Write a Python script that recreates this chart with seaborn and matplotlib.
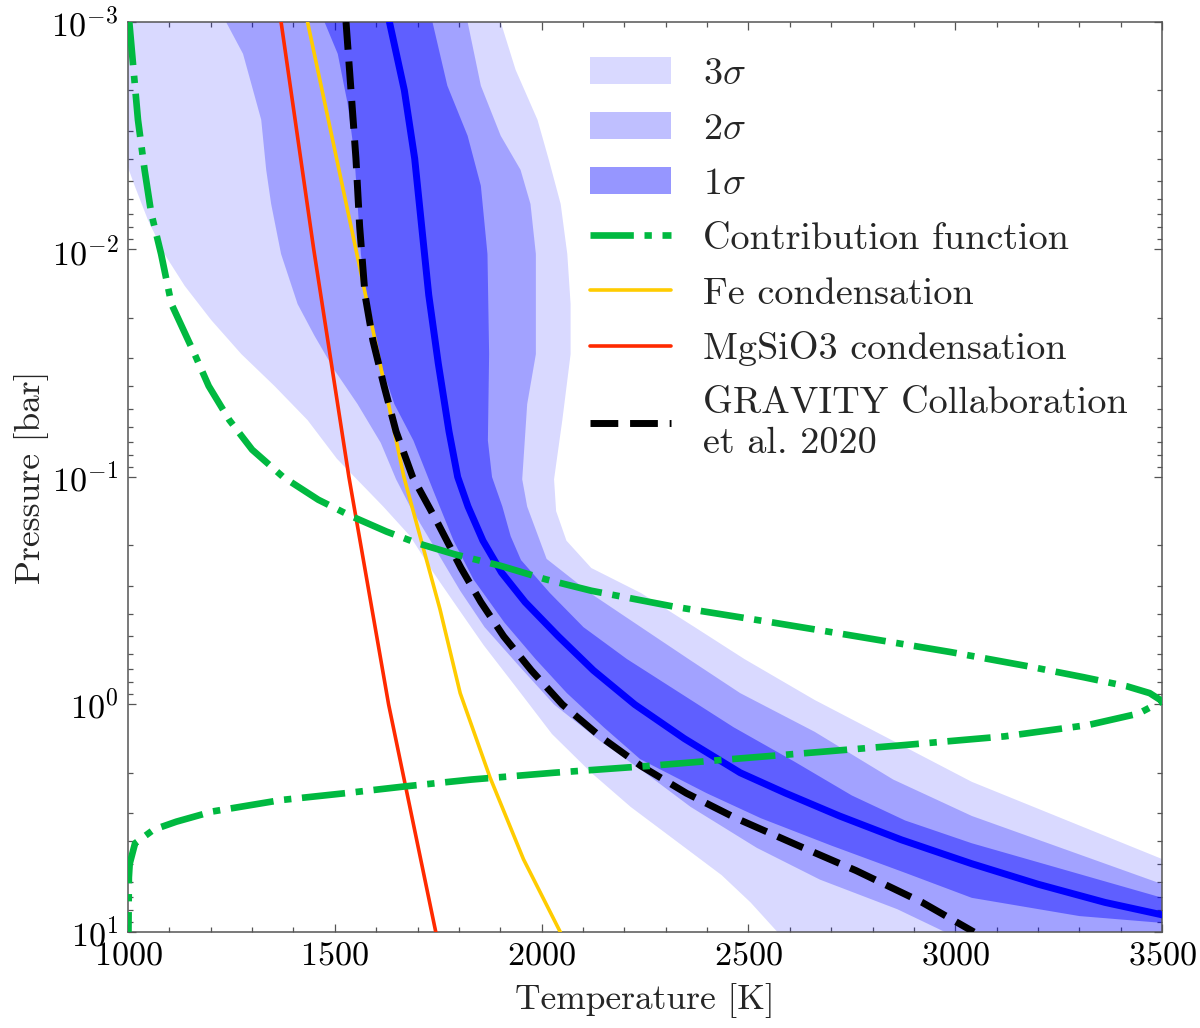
import numpy as np
import matplotlib
matplotlib.use("Agg")
import matplotlib.pyplot as plt
import seaborn as sns
import pandas as pd
from matplotlib.patches import Patch
from matplotlib.ticker import MultipleLocator, LogLocator, NullFormatter

# ---------------- data (log10 pressure [bar], temperature [K]) ----------------
median_logp = [-3.0, -2.7, -2.4, -2.1, -1.8, -1.5, -1.2, -1.0, -0.87, -0.72, -0.58, -0.45,
               -0.3, -0.15, 0.0, 0.15, 0.3, 0.39, 0.49, 0.595, 0.7, 0.79, 0.87, 0.925, 1.0]
median_T = [1632, 1668, 1693, 1710, 1727, 1750, 1776, 1797, 1822, 1858, 1903, 1960,
            2040, 2125, 2225, 2345, 2480, 2590, 2720, 2870, 3040, 3200, 3362, 3501, 3700]

gravity_logp = [-3.0, -2.7, -2.4, -2.1, -1.8, -1.6, -1.4, -1.2, -1.0, -0.8, -0.6, -0.45,
                -0.3, -0.15, 0.0, 0.14, 0.27, 0.39, 0.5, 0.62, 0.73, 0.87, 1.0]
gravity_T = [1527, 1539, 1551, 1560, 1573, 1592, 1619, 1648, 1688, 1748, 1805, 1853,
             1908, 1975, 2050, 2141, 2240, 2350, 2470, 2620, 2760, 2920, 3045]

mgsio3_logp = [-3.0, -2.0, -1.0, 0.0, 1.0]
mgsio3_T = [1370, 1449, 1534, 1630, 1744]

fe_logp = [-3.0, -2.0, -1.0, -0.42, -0.05, 0.32, 0.68, 1.0]
fe_T = [1434, 1551, 1667, 1754, 1803, 1875, 1956, 2045]

cf_logp = [-3.0, -2.57, -2.35, -2.16, -1.98, -1.76, -1.54, -1.4, -1.25, -1.12, -1.0, -0.9,
           -0.83, -0.76, -0.71, -0.66, -0.61, -0.55, -0.5, -0.43, -0.36, -0.3, -0.23,
           -0.17, -0.12, -0.08, -0.05, -0.015, 0.04, 0.09, 0.14, 0.178, 0.212, 0.24,
           0.27, 0.3, 0.33, 0.36, 0.39, 0.42, 0.47, 0.515, 0.55, 0.61, 0.70, 0.76, 1.0]
cf_T = [1003, 1024, 1040, 1056, 1080, 1105, 1161, 1195, 1245, 1300, 1375, 1460,
        1537, 1625, 1698, 1790, 1900, 2010, 2120, 2320, 2560, 2760, 2990,
        3170, 3310, 3415, 3470, 3500, 3443, 3322, 3120, 2879, 2650, 2460,
        2260, 2030, 1830, 1670, 1525, 1370, 1205, 1117, 1062, 1017, 1004, 1002, 1001]

# 3 sigma envelope
s3_left_logp = [-3.0, -2.6, -2.36, -2.28, -2.13, -1.98, -1.84, -1.69, -1.54, -1.4, -1.25,
                -1.08, -0.87, -0.74, -0.58, -0.43, -0.26, -0.06, 0.13, 0.3, 0.45, 0.6,
                0.75, 0.87, 1.0]
s3_left_T = [985, 995, 1000, 1016, 1048, 1088, 1137, 1201, 1274, 1354, 1434,
             1505, 1617, 1682, 1738, 1795, 1860, 1945, 2025, 2120, 2215, 2325,
             2435, 2505, 2570]
s3_right_logp = [-3.0, -2.79, -2.57, -2.39, -2.2, -1.98, -1.76, -1.54, -1.25, -0.99, -0.85,
                 -0.72, -0.6, -0.49, -0.34, -0.2, -0.02, 0.16, 0.34, 0.68, 1.0]
s3_right_T = [1901, 1937, 1990, 2018, 2046, 2062, 2070, 2070, 2050, 2030, 2035,
              2060, 2120, 2240, 2370, 2490, 2660, 2850, 3040, 3501, 3900]

# 2 sigma envelope
s2_left_logp = [-3.0, -2.86, -2.57, -2.35, -2.2, -1.98, -1.76, -1.62, -1.47, -1.32, -1.15,
                -0.99, -0.87, -0.65, -0.5, -0.34, -0.17, 0.0, 0.16, 0.3, 0.45, 0.54,
                0.63, 0.77, 0.9, 1.0]
s2_left_T = [1237, 1278, 1322, 1334, 1346, 1370, 1410, 1451, 1499, 1555, 1611,
             1648, 1682, 1754, 1803, 1862, 1945, 2030, 2141, 2250, 2360, 2440,
             2520, 2673, 2860, 2975]
s2_right_logp = [-3.0, -2.72, -2.5, -2.35, -2.2, -1.98, -1.54, -1.32, -0.99, -0.87, -0.64,
                 -0.49, -0.34, -0.2, -0.05, 0.12, 0.33, 0.49, 0.79, 1.0]
s2_right_T = [1821, 1853, 1901, 1949, 1973, 1986, 1986, 1965, 1953, 1965, 2012,
              2117, 2240, 2355, 2480, 2660, 2850, 3040, 3501, 3850]

# 1 sigma envelope
s1_left_logp = [-3.0, -2.86, -2.64, -2.42, -2.2, -1.98, -1.76, -1.54, -1.32, -1.16, -0.94,
                -0.72, -0.55, -0.36, -0.2, -0.05, 0.1, 0.24, 0.39, 0.5, 0.62, 0.74,
                0.85, 0.93, 0.96, 1.0]
s1_left_T = [1475, 1507, 1531, 1547, 1555, 1563, 1579, 1603, 1644, 1690, 1738,
             1787, 1835, 1910, 1985, 2061, 2150, 2238, 2399, 2530, 2700, 2879,
             3040, 3300, 3500, 3800]
s1_right_logp = [-3.0, -2.72, -2.5, -2.28, -1.98, -1.54, -1.16, -1.0, -0.87, -0.74, -0.635,
                 -0.49, -0.34, -0.2, -0.05, 0.1, 0.25, 0.4, 0.51, 0.61, 0.85, 1.0]
s1_right_T = [1736, 1772, 1821, 1853, 1869, 1873, 1870, 1880, 1905, 1925, 1950,
              2020, 2101, 2206, 2335, 2464, 2610, 2750, 2879, 3040, 3501, 3800]

band_alphas = [0.15, 0.25, 0.41]
band_labels = [r"$3\sigma$", r"$2\sigma$", r"$1\sigma$"]
line_labels = ["Contribution function", "Fe condensation", "MgSiO3 condensation",
               "GRAVITY Collaboration\net al. 2020"]

# ---------------- style ----------------
sns.set_theme(style="ticks")
plt.rcParams["font.family"] = ["cmr10", "DejaVu Serif"]
plt.rcParams["mathtext.fontset"] = "cm"
plt.rcParams["axes.formatter.use_mathtext"] = True
plt.rcParams["axes.unicode_minus"] = False

fig = plt.figure(figsize=(12, 10.28), dpi=100)
ax = fig.add_axes([0.1067, 0.0934, 0.8617, 0.8852])
ax.set_yscale("log")

def band(lp_l, T_l, lp_r, T_r, alpha):
    xs = np.concatenate([np.asarray(T_l, float), np.asarray(T_r, float)[::-1]])
    ys = np.concatenate([10 ** np.asarray(lp_l, float), 10 ** np.asarray(lp_r, float)[::-1]])
    ax.fill(xs, ys, color="#0000ff", alpha=alpha, lw=0, zorder=1)

band(s3_left_logp, s3_left_T, s3_right_logp, s3_right_T, band_alphas[0])
band(s2_left_logp, s2_left_T, s2_right_logp, s2_right_T, band_alphas[1])
band(s1_left_logp, s1_left_T, s1_right_logp, s1_right_T, band_alphas[2])

def line(lp, T, **kw):
    df = pd.DataFrame({"T": T, "P": 10 ** np.asarray(lp, float)})
    sns.lineplot(data=df, x="T", y="P", sort=False, estimator=None, ax=ax, **kw)
    ln = ax.lines[-1]
    ln.set_solid_joinstyle("round")
    ln.set_dash_joinstyle("round")
    return ln

l_red = line(mgsio3_logp, mgsio3_T, color="#ff2a00", lw=2.6, zorder=3)
l_yel = line(fe_logp, fe_T, color="#ffcc00", lw=2.6, zorder=3)
l_med = line(median_logp, median_T, color="#0000ff", lw=5, zorder=4)
l_grav = line(gravity_logp, gravity_T, color="black", lw=5, zorder=5)
l_grav.set_dashes([4.0, 1.7])
l_cf = line(cf_logp, cf_T, color="#00b940", lw=4.8, zorder=6)
l_cf.set_dashes([6.5, 1.6, 1.1, 1.6])

ax.set_xlim(1000, 3500)
ax.set_ylim(10, 1e-3)

ax.xaxis.set_major_locator(MultipleLocator(500))
ax.xaxis.set_minor_locator(MultipleLocator(100))
ax.yaxis.set_major_locator(LogLocator(base=10, numticks=10))
ax.yaxis.set_minor_locator(LogLocator(base=10, subs=np.arange(2, 10), numticks=20))
ax.yaxis.set_minor_formatter(NullFormatter())

ax.tick_params(which="both", direction="in", top=True, right=True,
               color="#555555", labelsize=24.5, labelcolor="black", width=0.9)
ax.tick_params(which="major", length=6, pad=7)
ax.tick_params(which="minor", length=3.5)
for s in ax.spines.values():
    s.set_color("#555555")
    s.set_linewidth(1.1)

ax.set_xlabel("Temperature [K]", fontsize=25.5, labelpad=9)
ax.set_ylabel("Pressure [bar]", fontsize=25.5, labelpad=2)

handles = [Patch(facecolor="#0000ff", alpha=a, lw=0) for a in band_alphas]
handles += [l_cf, l_yel, l_red, l_grav]
labels = band_labels + line_labels
leg = ax.legend(handles, labels, loc="upper left", bbox_to_anchor=(0.4468, 0.9616),
                frameon=False, fontsize=27.5, handlelength=2.12, handleheight=0.73,
                handletextpad=0.84, labelspacing=0.545, borderaxespad=0, borderpad=0)
for t in leg.get_texts():
    t.set_linespacing(1.25)

fig.savefig("out.png", dpi=100)
